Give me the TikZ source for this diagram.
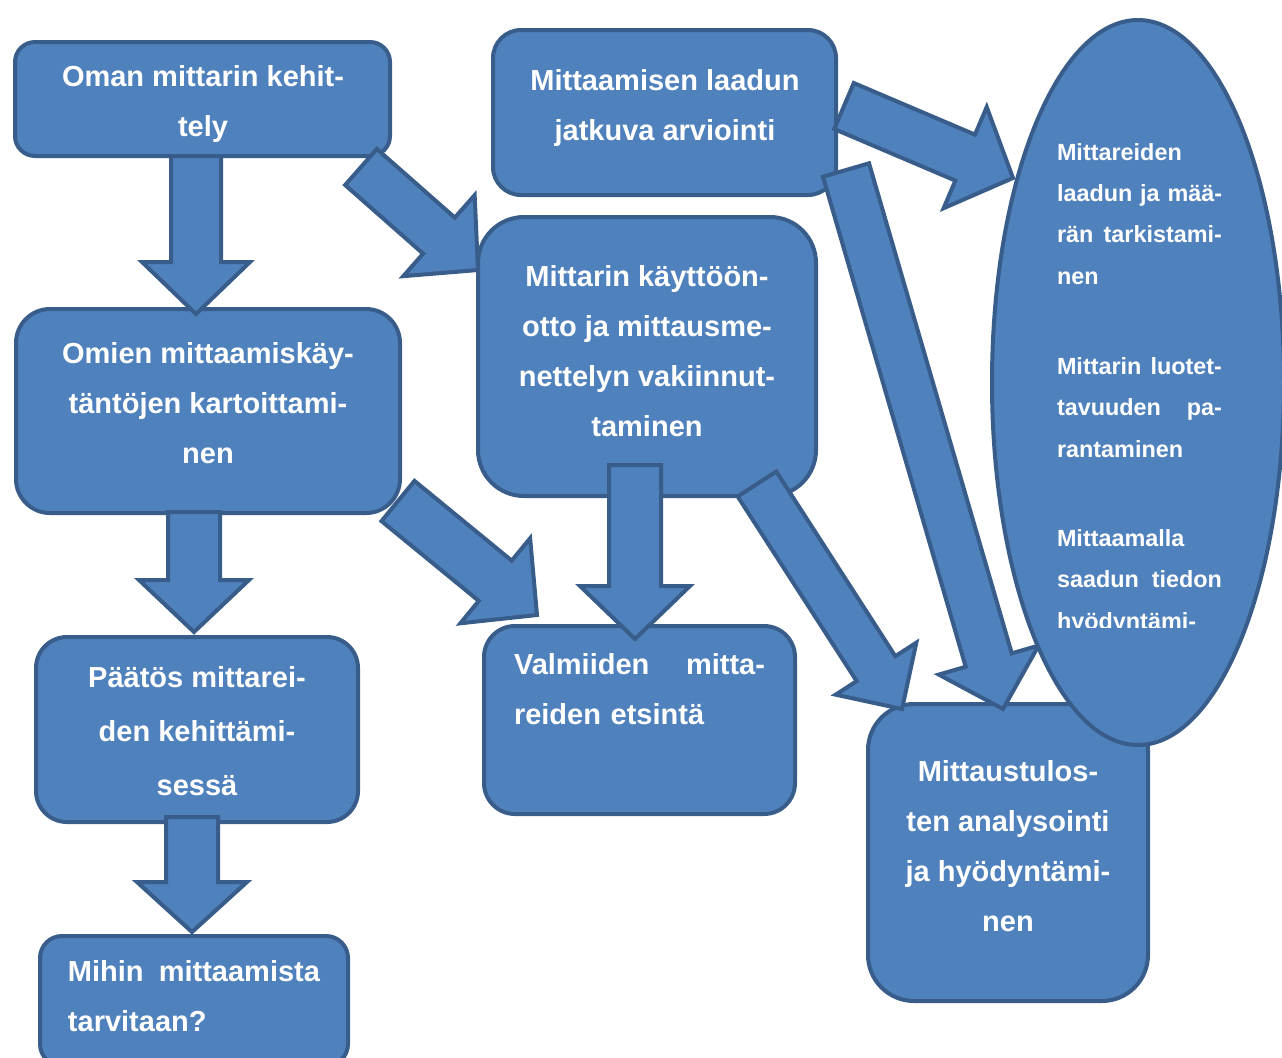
\documentclass[tikz,border=0pt]{standalone}
\usepackage{fontspec}
\setmainfont{Liberation Sans}
\usetikzlibrary{calc,shapes.geometric}
\pgfdeclarelayer{fg}
\pgfsetlayers{main,fg}
\definecolor{boxfill}{HTML}{4F81BD}
\definecolor{boxline}{HTML}{385D8A}
% block arrow: tail, tip, half shaft, half head, head length
\newcommand{\blockarrow}[5]{%
        \coordinate (hb) at ($(#2)!#5!(#1)$);
        \draw[barrow] ($(#1)!#3!90:(#2)$) -- ($(hb)!#3!-90:(#1)$)
                -- ($(hb)!#4!-90:(#1)$) -- (#2) -- ($(hb)!#4!90:(#1)$)
                -- ($(hb)!#3!90:(#1)$) -- ($(#1)!#3!-90:(#2)$) -- cycle;}
% justified line of two words
\newcommand{\fillline}[3][82.5pt]{\leavevmode\hbox to #1{#2\hfill #3}}

\begin{document}
\begin{tikzpicture}[x=0.5pt,y=-0.5pt,
        box/.style={draw=boxline,fill=boxfill,line width=2pt,inner sep=0pt},
        barrow/.style={draw=boxline,fill=boxfill,line width=2pt},
        boxtext/.style={text=white,font=\bfseries\fontsize{14.5pt}{25pt}\selectfont,
                align=center,inner sep=0pt,
                execute at begin node=\strut,execute at end node=\strut},
        ovaltext/.style={text=white,font=\bfseries\fontsize{11.7pt}{20.65pt}\selectfont,
                text width=82.5pt,align=left,inner sep=0pt,
                execute at begin node=\strut,execute at end node=\strut}]
        \useasboundingbox (0,0) rectangle (1282,1057);
        \node (v0) [box,rounded corners=10pt,minimum width=187.5pt,minimum height=57pt] at (202.5,99) {};
        \node (v1) [box,rounded corners=14pt,minimum width=171.5pt,minimum height=82.5pt] at (664.5,112.5) {};
        \node (v2) [box,rounded corners=23pt,minimum width=169pt,minimum height=139.5pt] at (647,356.5) {};
        \node (v3) [box,rounded corners=17pt,minimum width=192pt,minimum height=102pt] at (208,411) {};
        \node (v4) [box,rounded corners=15.5pt,minimum width=161pt,minimum height=92.5pt] at (197,729.5) {};
        \node (v5) [box,rounded corners=15.5pt,minimum width=155.5pt,minimum height=94pt] at (639.5,720) {};
        \node (v6) [box,rounded corners=11pt,minimum width=154pt,minimum height=65pt] at (194,1001) {};
        \node (v7) [box,rounded corners=23pt,minimum width=140pt,minimum height=148.5pt] at (1008,852.5) {};

        \node (t0) [boxtext] at (203,108) {Oman mittarin kehit-\\tely};
        \node (t1) [boxtext] at (665,112.5) {Mittaamisen laadun\\jatkuva arviointi};
        \node (t2) [boxtext] at (647,358) {Mittarin käyttöön-\\otto ja mittausme-\\nettelyn vakiinnut-\\taminen};
        \node (t3) [boxtext] at (208,410.5) {Omien mittaamiskäy-\\täntöjen kartoittami-\\nen};
        \node (t4) [boxtext,font=\bfseries\fontsize{14.5pt}{27pt}\selectfont] at (197,739.5) {Päätös mittarei-\\den kehittämi-\\sessä};
        \node (t5) [boxtext,text width=125.5pt,align=left] at (639.5,689) {\fillline[125.5pt]{Valmiiden}{mitta-}\\reiden etsintä};
        \node (t6) [boxtext,text width=126pt,align=left] at (194,996.5) {\fillline[126pt]{Mihin}{mittaamista}\\tarvitaan?};
        \node (t7) [boxtext] at (1008,853.5) {Mittaustulos-\\ten analysointi\\ja hyödyntämi-\\nen};

        \coordinate (p0) at (196,156);  \coordinate (q0) at (196,314);
        \coordinate (p1) at (361,167);  \coordinate (q1) at (478,270);
        \coordinate (p2) at (844,106);  \coordinate (q2) at (1013,178);
        \coordinate (p3) at (846,170);  \coordinate (q3) at (1003,709);
        \coordinate (p4) at (635,465);  \coordinate (q4) at (635,639);
        \coordinate (p5) at (398,501);  \coordinate (q5) at (537,615);
        \coordinate (p6) at (757,484);  \coordinate (q6) at (902,709);
        \coordinate (p7) at (194,512);  \coordinate (q7) at (194,632);
        \coordinate (p8) at (192,817);  \coordinate (q8) at (192,932);
        \blockarrow{p0}{q0}{12.5pt}{27pt}{26pt}
        \blockarrow{p1}{q1}{12pt}{27pt}{26pt}
        \blockarrow{p2}{q2}{12.5pt}{27.5pt}{26pt}
        \blockarrow{p3}{q3}{12pt}{26pt}{25.5pt}
        \blockarrow{p4}{q4}{13pt}{27.5pt}{26.5pt}
        \blockarrow{p5}{q5}{13pt}{27.5pt}{27pt}
        \blockarrow{p6}{q6}{11.5pt}{24pt}{24pt}
        \blockarrow{p7}{q7}{13pt}{27.5pt}{26pt}
        \blockarrow{p8}{q8}{13pt}{27.5pt}{25pt}

        \begin{pgfonlayer}{fg}
                \node (v8) [box,ellipse,minimum width=146pt,minimum height=362.5pt] at (1138,382.5) {};
                \node (t8) [ovaltext] at (1139.5,214) {Mittareiden\\\leavevmode\hbox to 82.5pt{laadun ja mää-}\\\fillline{rän}{tarkistami-}\\nen};
                \node (t9) [ovaltext] at (1139.5,407.5) {\fillline{Mittarin}{luotet-}\\\fillline{tavuuden}{pa-}\\rantaminen};
                \begin{scope}
                        \clip (1040,510) rectangle (1240,627);
                        \node (t10) [ovaltext] at (1139.5,579.5) {Mittaamalla\\\fillline{saadun}{tiedon}\\hyödyntämi-};
                \end{scope}
        \end{pgfonlayer}
\end{tikzpicture}
\end{document}
